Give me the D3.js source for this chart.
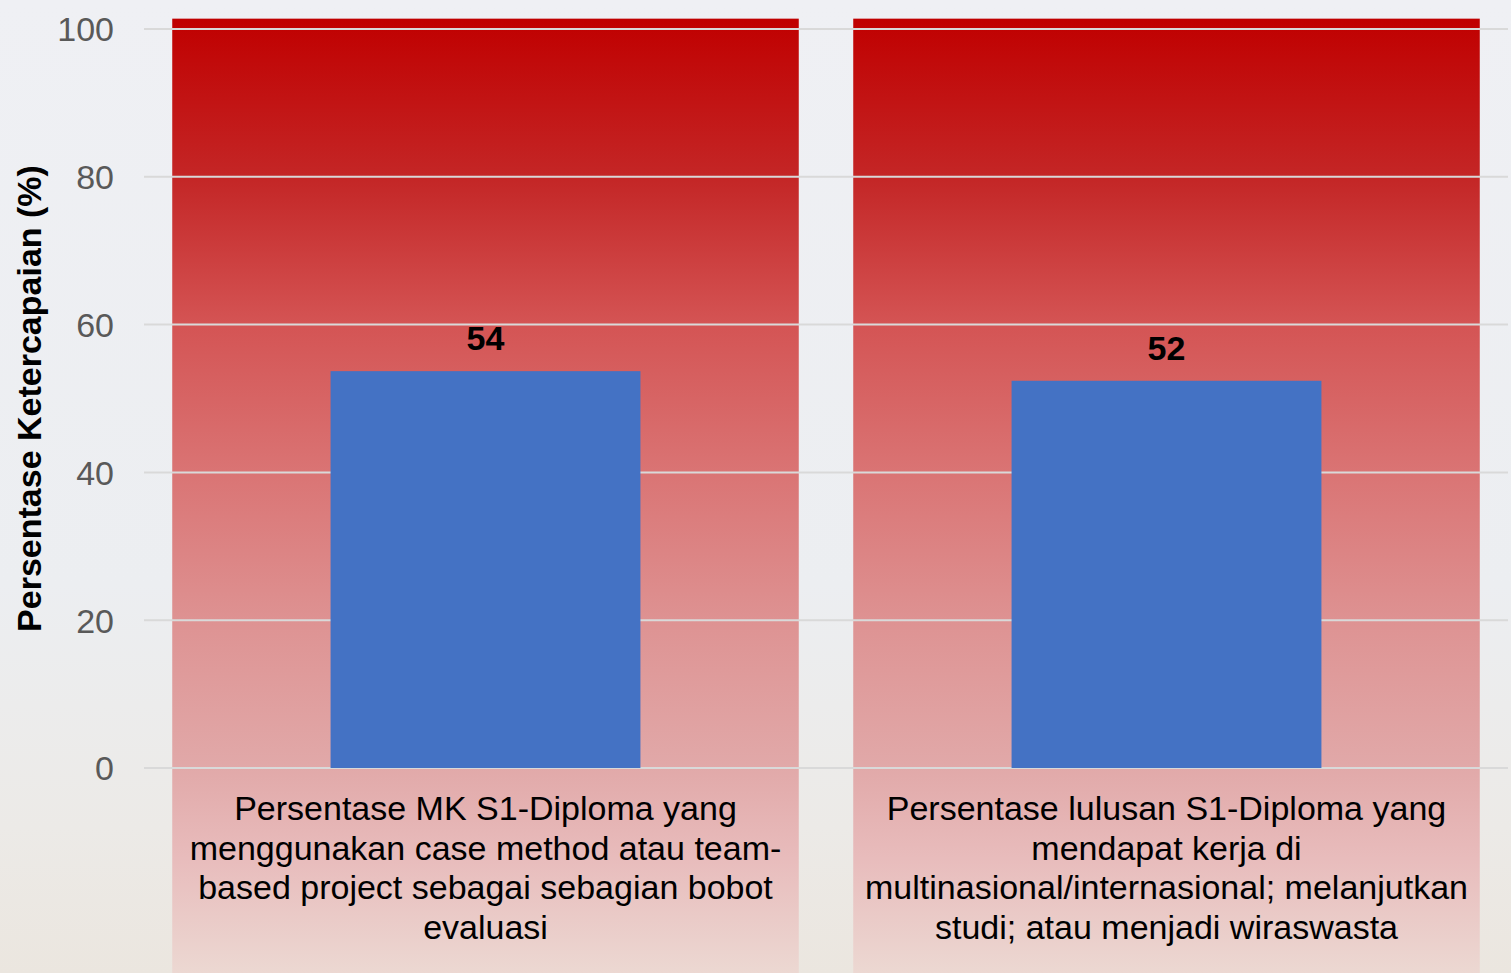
<!DOCTYPE html>
<html>
<head>
<meta charset="utf-8">
<script src="https://cdn.jsdelivr.net/npm/d3@7"></script>
<style>
  html, body { margin: 0; padding: 0; }
  body { width: 1511px; height: 973px; overflow: hidden; font-family: "Liberation Sans", Arial, sans-serif; }
</style>
</head>
<body>
<div id="chart"></div>
<script>
// ---------- DATA ----------
const CATEGORIES = [
  ["Persentase MK S1-Diploma yang", "menggunakan case method atau team-", "based project sebagai sebagian bobot", "evaluasi"],
  ["Persentase lulusan S1-Diploma yang", "mendapat kerja di", "multinasional/internasional; melanjutkan", "studi; atau menjadi wiraswasta"]
];
const VALUES = [53.7, 52.4];
const VALUE_LABELS = ["54", "52"];
const Y_TICKS = [0, 20, 40, 60, 80, 100];
const Y_TITLE = "Persentase Ketercapaian (%)";

// ---------- SCAFFOLD ----------
const width = 1511, height = 973;
const svg = d3.select("#chart").append("svg")
  .attr("width", width)
  .attr("height", height);

const defs = svg.append("defs");

// page background (stands in for the faded photo)
const bg = defs.append("linearGradient").attr("id", "bg").attr("x1", 0).attr("y1", 0).attr("x2", 0).attr("y2", 1);
bg.append("stop").attr("offset", "0%").attr("stop-color", "#eff0f4");
bg.append("stop").attr("offset", "60%").attr("stop-color", "#eceef1");
bg.append("stop").attr("offset", "85%").attr("stop-color", "#eceae7");
bg.append("stop").attr("offset", "100%").attr("stop-color", "#ebe6df");
svg.append("rect").attr("width", width).attr("height", height).attr("fill", "url(#bg)");

// red column fill
const rg = defs.append("linearGradient").attr("id", "redcol")
  .attr("gradientUnits", "userSpaceOnUse").attr("x1", 0).attr("y1", 19).attr("x2", 0).attr("y2", 973);
[[0, "#c00000"], [0.17, "#c42727"], [0.32, "#d45454"], [0.48, "#da7575"], [0.64, "#de9494"],
 [0.78, "#e1a8a8"], [0.88, "#e8bcbc"], [1, "#ecd8d2"]]
  .forEach(([o, c]) => rg.append("stop").attr("offset", o).attr("stop-color", c));

const x = d3.scaleBand()
  .domain(d3.range(VALUES.length))
  .range([145, 1507])
  .padding(0);

const y = d3.scaleLinear()
  .domain([0, 100])
  .range([768, 29]);

const colW = x.step() * 0.92;
const barW = x.step() * 0.455;

// red columns
svg.selectAll(".col")
  .data(VALUES)
  .join("rect")
  .attr("class", "col")
  .attr("x", (d, i) => x(i) + (x.step() - colW) / 2)
  .attr("y", y(101.4))
  .attr("width", colW)
  .attr("height", height - y(101.4))
  .attr("fill", "url(#redcol)");

// gridlines
svg.selectAll(".grid")
  .data(Y_TICKS)
  .join("line")
  .attr("class", "grid")
  .attr("x1", 144).attr("x2", 1508)
  .attr("y1", d => y(d)).attr("y2", d => y(d))
  .attr("stroke", "#d9d9d9")
  .attr("stroke-width", 2);

// y axis (labels only)
const yAxis = svg.append("g")
  .attr("transform", "translate(114,0)")
  .call(d3.axisLeft(y).tickValues(Y_TICKS).tickSize(0).tickPadding(0));
yAxis.select(".domain").remove();
yAxis.selectAll("text")
  .attr("fill", "#595959")
  .style("font-size", "34px")
  .style("font-family", "Liberation Sans, Arial, sans-serif")
  .attr("dy", "0.35em");

// y title
svg.append("text")
  .attr("transform", `translate(41,${y(50)}) rotate(-90)`)
  .attr("text-anchor", "middle")
  .attr("fill", "#000")
  .style("font-size", "34px")
  .style("font-weight", "bold")
  .text(Y_TITLE);

// bars
svg.selectAll(".bar")
  .data(VALUES)
  .join("rect")
  .attr("class", "bar")
  .attr("x", (d, i) => x(i) + (x.step() - barW) / 2)
  .attr("y", d => y(d))
  .attr("width", barW)
  .attr("height", d => y(0) - y(d))
  .attr("fill", "#4472c4");

// value labels
svg.selectAll(".val")
  .data(VALUES)
  .join("text")
  .attr("class", "val")
  .attr("x", (d, i) => x(i) + x.step() / 2)
  .attr("y", d => y(d) - 21)
  .attr("text-anchor", "middle")
  .style("font-size", "34px")
  .style("font-weight", "bold")
  .attr("fill", "#000")
  .text((d, i) => VALUE_LABELS[i]);

// category labels
const cat = svg.selectAll(".cat")
  .data(CATEGORIES)
  .join("text")
  .attr("class", "cat")
  .attr("text-anchor", "middle")
  .attr("fill", "#000")
  .style("font-size", "34px");
cat.selectAll("tspan")
  .data((d, i) => d.map(line => ({ line, i })))
  .join("tspan")
  .attr("x", d => x(d.i) + x.step() / 2)
  .attr("y", (d, j) => 820 + j * 39.7)
  .text(d => d.line);
</script>
</body>
</html>
